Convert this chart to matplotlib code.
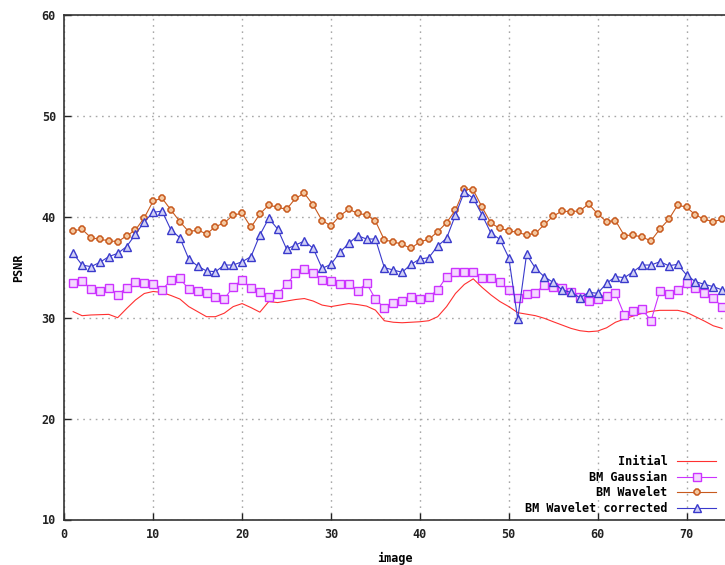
import matplotlib
matplotlib.use("Agg")
import matplotlib.pyplot as plt
import numpy as np

images = list(range(1, 75))

initial = [30.6, 30.2, 30.27, 30.3, 30.33, 30.0, 30.9, 31.75, 32.4, 32.6,
           32.5, 32.2, 31.85, 31.1, 30.6, 30.1, 30.1, 30.45, 31.1, 31.4,
           31.0, 30.55, 31.6, 31.5, 31.65, 31.8, 31.9, 31.65, 31.25, 31.1,
           31.25, 31.4, 31.3, 31.15, 30.75, 29.7, 29.55, 29.5, 29.55, 29.6,
           29.7, 30.1, 31.1, 32.4, 33.3, 33.85, 33.0, 32.25, 31.6, 31.1,
           30.5, 30.35, 30.2, 29.94, 29.6, 29.27, 28.94, 28.71, 28.61, 28.68,
           29.0, 29.55, 29.87, 30.17, 30.43, 30.63, 30.73, 30.73, 30.73, 30.53,
           30.1, 29.67, 29.2, 28.94]

bm_gaussian = [33.41, 33.64, 32.84, 32.68, 32.98, 32.25, 32.98, 33.5, 33.41, 33.31,
               32.75, 33.74, 33.9, 32.81, 32.65, 32.42, 32.08, 31.85, 33.08, 33.74,
               32.91, 32.58, 32.08, 32.35, 33.31, 34.4, 34.8, 34.46, 33.74, 33.64,
               33.31, 33.31, 32.68, 33.41, 31.85, 30.95, 31.43, 31.66, 32.08, 31.85,
               32.08, 32.75, 34.07, 34.5, 34.5, 34.56, 33.97, 33.9, 33.5, 32.75,
               31.92, 32.35, 32.48, 33.24, 33.08, 32.91, 32.58, 32.08, 31.69, 31.85,
               32.15, 32.42, 30.27, 30.7, 30.83, 29.7, 32.65, 32.32, 32.75, 33.41,
               32.91, 32.42, 31.92, 31.1]

bm_wavelet = [38.62, 38.76, 37.93, 37.77, 37.63, 37.53, 38.1, 38.69, 39.91, 41.57,
              41.84, 40.67, 39.52, 38.52, 38.69, 38.3, 39.02, 39.4, 40.18, 40.35,
              38.96, 40.28, 41.17, 40.94, 40.74, 41.83, 42.33, 41.17, 39.62, 39.12,
              40.11, 40.74, 40.35, 40.18, 39.58, 37.7, 37.53, 37.27, 36.87, 37.53,
              37.77, 38.52, 39.42, 40.67, 42.76, 42.66, 40.94, 39.35, 38.86, 38.62,
              38.45, 38.2, 38.36, 39.25, 40.08, 40.57, 40.5, 40.6, 41.27, 40.28,
              39.52, 39.62, 38.13, 38.2, 37.97, 37.63, 38.79, 39.75, 41.17, 40.94,
              40.18, 39.75, 39.52, 39.75]

bm_wavelet_corr = [36.38, 35.22, 35.06, 35.49, 36.05, 36.38, 37.04, 38.26, 39.52, 40.44,
                   40.57, 38.69, 37.93, 35.82, 35.12, 34.63, 34.56, 35.22, 35.22, 35.55,
                   36.05, 38.2, 39.85, 38.79, 36.81, 37.2, 37.6, 36.87, 34.89, 35.29,
                   36.48, 37.37, 38.13, 37.8, 37.8, 34.96, 34.73, 34.5, 35.29, 35.82,
                   35.95, 37.11, 37.87, 40.18, 42.49, 41.83, 40.18, 38.36, 37.77, 35.95,
                   29.87, 36.28, 34.89, 34.05, 33.5, 32.75, 32.51, 31.98, 32.51, 32.42,
                   33.41, 34.07, 33.97, 34.56, 35.22, 35.22, 35.55, 35.15, 35.29, 34.23,
                   33.57, 33.31, 33.08, 32.75]

labels = ["Initial", "BM Gaussian", "BM Wavelet", "BM Wavelet corrected"]
xticks = [0, 10, 20, 30, 40, 50, 60, 70]
yticks = [10, 20, 30, 40, 50, 60]

FONT = "DejaVu Sans Mono"
plt.rcParams["font.family"] = [FONT]
plt.rcParams["font.weight"] = "bold"

W, H = 725, 565
fig = plt.figure(figsize=(W / 100, H / 100), dpi=100)
left, right, top, bottom = 64.3, 725, 15, 519.5
ax = fig.add_axes([left / W, (H - bottom) / H, (right - left) / W, (bottom - top) / H])

ax.set_xlim(0, (right - left) / 8.89)
ax.set_ylim(10, 60)

LW = 0.8
ax.plot(images, initial, color="#ff3030", lw=LW, label=labels[0])
ax.plot(images, bm_gaussian, color="#cc33ff", lw=LW, marker="s", ms=5.8,
        mfc="#f4d8ff", mec="#cc33ff", mew=1.0, label=labels[1])
ax.plot(images, bm_wavelet, color="#c85a1e", lw=LW, marker="8", ms=5.2,
        mfc="#f4c8a0", mec="#c85a1e", mew=1.1, label=labels[2])
ax.plot(images, bm_wavelet_corr, color="#3a3acc", lw=LW, marker="^", ms=6.3,
        mfc="#d0d0f6", mec="#3a3acc", mew=1.0, label=labels[3])

ax.set_xticks(xticks)
ax.set_yticks(yticks)
ax.tick_params(direction="in", length=5, width=1, colors="#222222",
               labelsize=8.5, top=False, right=False, pad=6)
for lab in ax.get_xticklabels() + ax.get_yticklabels():
    lab.set_fontweight("bold")
ax.grid(True, color="#a8a8a8", linestyle=(0, (1.2, 3.3)), linewidth=1.0)
for s in ["left", "bottom", "top"]:
    ax.spines[s].set_color("#333333")
    ax.spines[s].set_linewidth(1.2)
ax.spines["right"].set_visible(False)

ax.set_xlabel("image", fontsize=8.5, fontweight="bold", labelpad=8)
ax.set_ylabel("PSNR", fontsize=8.5, fontweight="bold", labelpad=12)

leg = ax.legend(loc="lower right", bbox_to_anchor=((716 - left) / (right - left), (bottom - 515) / (bottom - top)),
                frameon=False, markerfirst=False, fontsize=8.5, handlelength=3.3,
                handletextpad=0.8, labelspacing=0.22, borderaxespad=0, borderpad=0)
for t in leg.get_texts():
    t.set_fontweight("bold")

fig.savefig("out.png", dpi=100)
